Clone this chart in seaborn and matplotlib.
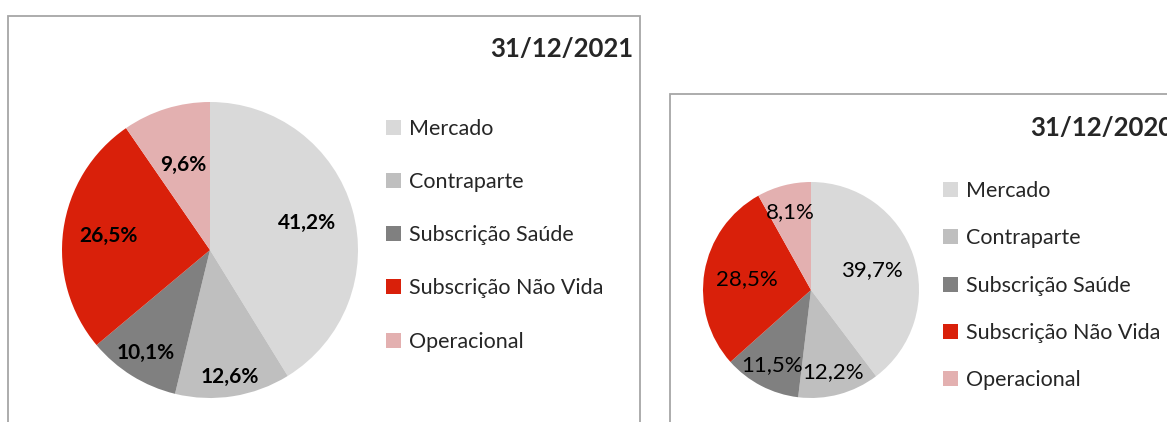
import numpy as np
import matplotlib
matplotlib.use("Agg")
from matplotlib import pyplot as plt
from matplotlib.patches import Rectangle, Patch
import seaborn as sns

# Data
categories = ["Mercado", "Contraparte", "Subscrição Saúde", "Subscrição Não Vida", "Operacional"]
values_2021 = [41.2, 12.6, 10.1, 26.5, 9.6]
values_2020 = [39.7, 12.2, 11.5, 28.5, 8.1]
titles = ["31/12/2021", "31/12/2020"]

colors = ["#D9D9D9", "#BFBFBF", "#808080", "#D9200A", "#E3B0B0"]

sns.set_theme(style="white")
plt.rcParams["font.family"] = ["Lato", "DejaVu Sans"]

W, H = 1167, 422
fig = plt.figure(figsize=(W / 100, H / 100), dpi=100)


def px_box(x0, y_top, w, h):
    # pixel box -> figure fraction rect
    return [x0 / W, 1 - (y_top + h) / H, w / W, h / H]


def draw_panel(values, title, pie_box, label_dist, bold, label_size, frame,
               title_xy, legend_xy, spacing):
    # panel frame
    fx0, fy0, fx1 = frame
    fig.add_artist(Rectangle((fx0 / W, -0.2), (fx1 - fx0) / W, 1.2 - fy0 / H,
                             transform=fig.transFigure, fill=False,
                             edgecolor="#A6A6A6", linewidth=1.3, clip_on=False))
    ax = fig.add_axes(px_box(*pie_box))
    wedges, _ = ax.pie(values, colors=colors, startangle=90, counterclock=False,
                       wedgeprops=dict(linewidth=0), radius=1)
    ax.set_xlim(-1, 1)
    ax.set_ylim(-1, 1)
    ax.set_axis_off()
    for w, v, d in zip(wedges, values, label_dist):
        mid = np.deg2rad((w.theta1 + w.theta2) / 2)
        ax.text(d * np.cos(mid), d * np.sin(mid), f"{v:.1f}%".replace(".", ","),
                ha="center", va="center", fontsize=label_size,
                fontweight="bold" if bold else "normal", color="black")
    # the 2020 title runs past the right edge, as in the source image
    fig.text(title_xy[0] / W, 1 - title_xy[1] / H, title, fontsize=18.5,
             fontweight="bold", ha=title_xy[2], va="center")
    handles = [Patch(facecolor=c, edgecolor="none") for c in colors]
    fig.legend(handles, categories, loc="upper left",
               bbox_to_anchor=(legend_xy[0] / W, 1 - legend_xy[1] / H),
               frameon=False, fontsize=15.5, handlelength=0.7, handleheight=0.7,
               handletextpad=0.35, labelspacing=spacing, borderpad=0, borderaxespad=0)


draw_panel(values_2021, titles[0], (62, 102, 296, 296),
           [0.68, 0.87, 0.82, 0.69, 0.6], True, 15,
           (8, 16, 640), (633, 49, "right"), (386, 119), 1.54)
draw_panel(values_2020, titles[1], (703, 182, 216, 216),
           [0.59, 0.79, 0.78, 0.6, 0.75], False, 16,
           (670, 94, 1300), (1030, 128, "left"), (943, 181), 1.27)

fig.savefig("out.png", dpi=100)
